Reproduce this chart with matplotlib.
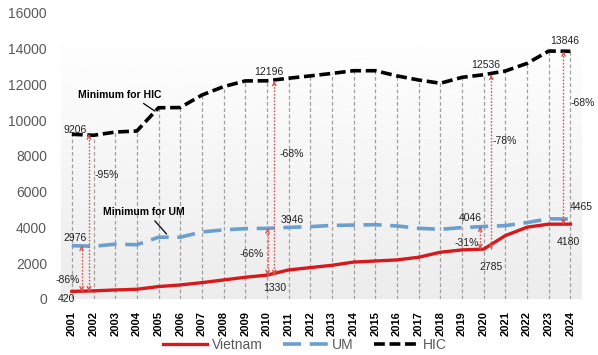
import numpy as np
import matplotlib.pyplot as plt

plt.rcParams['font.family'] = ['Liberation Sans', 'DejaVu Sans']

years = [str(y) for y in range(2001, 2025)]
vietnam = [420, 450, 500, 540, 690, 780, 910, 1060, 1210, 1330, 1620, 1750,
           1880, 2060, 2120, 2180, 2330, 2610, 2740, 2785, 3540, 4010, 4180, 4180]
um = [2976, 2945, 3060, 3030, 3450, 3450, 3745, 3860, 3930, 3946, 4000, 4040,
      4110, 4130, 4150, 4080, 3950, 3890, 3990, 4046, 4100, 4270, 4480, 4465]
hic = [9206, 9150, 9330, 9390, 10690, 10700, 11400, 11870, 12190, 12196, 12340, 12470,
       12610, 12760, 12760, 12470, 12240, 12060, 12390, 12536, 12745, 13170, 13860, 13846]

# labelled values: (series, year index, text, offset in pixels)
value_labels = [
    (hic, 0, '9206', (3, 4)), (hic, 9, '12196', (2, 9)), (hic, 19, '12536', (2, 10)),
    (hic, 23, '13846', (-6, 10)),
    (um, 0, '2976', (3, 8)), (um, 9, '3946', (25, 8)), (um, 19, '4046', (-13, 9)),
    (um, 23, '4465', (11, 12)),
    (vietnam, 0, '420', (-5, -8)), (vietnam, 9, '1330', (8, -13)),
    (vietnam, 19, '2785', (7, -18)), (vietnam, 23, '4180', (-2, -18)),
]

# gap arrows: (target series, year index, x shift, gap text, text x, text y)
gaps = [
    (hic, 0, 0.79, '-95%', 1.62, 6930), (um, 0, 0.45, '-86%', -0.18, 1060),
    (hic, 9, 0.34, '-68%', 10.16, 8100), (um, 9, 0.03, '-66%', 8.31, 2515),
    (hic, 19, 0.35, '-78%', 19.95, 8830), (um, 19, -0.16, '-31%', 18.2, 3130),
    (hic, 23, -0.32, '-68%', 23.56, 10960),
]

x = np.arange(len(years))

fig = plt.figure(figsize=(5.98, 3.55), dpi=100)
ax = fig.add_axes([0.102, 0.158, 0.87, 0.806])

# plot area gradient
grad = np.linspace(0.925, 0.995, 100).reshape(-1, 1)
ax.imshow(grad, cmap='gray', vmin=0, vmax=1, origin='lower', aspect='auto',
          extent=[-0.5, 23.5, 0, 14300], zorder=0)

# drop lines
ax.vlines(x, 0, hic, colors='#a0a0a0', linestyles=(0, (3, 2)), lw=0.9, zorder=1)

ax.plot(x, vietnam, color='#d7191c', lw=2.4, label='Vietnam', zorder=4)
ax.plot(x, um, color='#6b9fcf', lw=2.6, ls=(0, (5, 2.4)), label='UM', zorder=3)
ax.plot(x, hic, color='black', lw=2.6, ls=(0, (3, 1.3)), label='HIC', zorder=3)

for ser, i, txt, off in value_labels:
    ax.annotate(txt, (x[i], ser[i]), xytext=off, textcoords='offset pixels',
                ha='center', va='center', fontsize=7.5, color='#222222',
                annotation_clip=False, zorder=6)

acol = '#d9534f'
for ser, i, dx, txt, tx, ty in gaps:
    xa = x[i] + dx
    lo = vietnam[i]
    hi = ser[i]
    ax.vlines(xa, lo, hi, colors=acol, linestyles=(0, (1.2, 1.2)), lw=1, zorder=5)
    ax.annotate('', xy=(xa, hi), xytext=(xa, hi - 250),
                arrowprops=dict(arrowstyle='->', color=acol, lw=1, mutation_scale=6), zorder=5)
    ax.annotate('', xy=(xa, lo), xytext=(xa, lo + 250),
                arrowprops=dict(arrowstyle='->', color=acol, lw=1, mutation_scale=6), zorder=5)
    ax.text(tx, ty, txt, ha='center', va='center', fontsize=7.5, color='#222222', zorder=6)

ax.annotate('Minimum for HIC', xy=(3.83, 10500), xytext=(2.22, 11410),
            ha='center', va='center', fontsize=7.5, fontweight='bold',
            arrowprops=dict(arrowstyle='-', color='black', lw=0.9, relpos=(0.72, 0),
                            shrinkA=1, shrinkB=0), zorder=6)
ax.annotate('Minimum for UM', xy=(4.37, 3630), xytext=(3.33, 4860),
            ha='center', va='center', fontsize=7.5, fontweight='bold',
            arrowprops=dict(arrowstyle='-', color='black', lw=0.9, relpos=(0.59, 0),
                            shrinkA=1, shrinkB=0), zorder=6)

ax.set_xlim(-0.5, 23.5)
ax.set_ylim(0, 16000)
ax.set_yticks(range(0, 16001, 2000))
ax.set_xticks(x)
ax.set_xticklabels(years, rotation=90, fontsize=8, fontweight='bold')
ax.tick_params(axis='y', length=0, pad=10, labelsize=10, labelcolor='#595959')
ax.tick_params(axis='x', length=0, pad=9)
for s in ax.spines.values():
    s.set_visible(False)

fig.legend(loc='center', bbox_to_anchor=(0.51, 0.028), ncol=3, frameon=False,
           fontsize=10, labelcolor='#595959', handlelength=3.2, columnspacing=1.5,
           handletextpad=0.3, borderpad=0)

plt.savefig('out.png', dpi=100)
